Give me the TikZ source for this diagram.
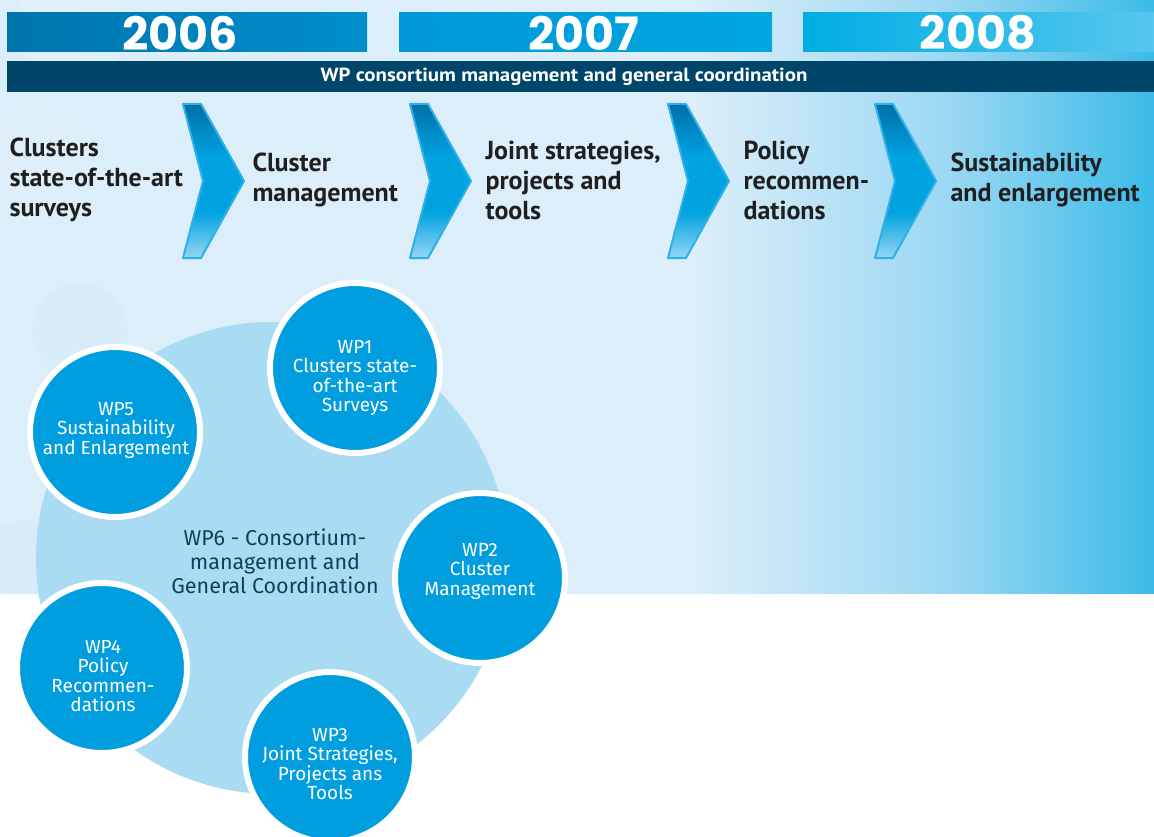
\documentclass[tikz,border=0pt]{standalone}
\usepackage{fontspec}
\setmainfont{PT Sans}
\newfontfamily\yearfont{Poppins}
\newfontfamily\barfont{PT Sans}[FakeStretch=1.1]
\newfontfamily\wpfont{Fira Sans}

\definecolor{bgpale}{HTML}{DCEEF9}
\definecolor{bgmid}{HTML}{9CD8F3}
\definecolor{bgdeep}{HTML}{3ABBE7}
\definecolor{darkbar}{HTML}{00456A}
\definecolor{chevtop}{HTML}{006EA8}
\definecolor{chevmid}{HTML}{00A2E0}
\definecolor{chevbot}{HTML}{94D6F3}
\definecolor{chevedge}{HTML}{2EB0E8}
\definecolor{ballfill}{HTML}{009EDF}
\definecolor{hubfill}{HTML}{A9DCF3}
\definecolor{hubtext}{HTML}{123F5E}
\definecolor{textdark}{HTML}{1F1F1F}

\pgfdeclarehorizontalshading{bgfade}{100bp}{color(0bp)=(bgpale); color(25bp)=(bgpale);
  color(55bp)=(bgpale); color(66bp)=(bgmid); color(75bp)=(bgdeep); color(100bp)=(bgdeep)}
\pgfdeclareverticalshading{chevfade}{100bp}{color(0bp)=(chevbot); color(25bp)=(chevbot);
  color(40bp)=(chevmid); color(58bp)=(chevmid); color(75bp)=(chevtop); color(100bp)=(chevtop)}

\begin{document}
\begin{tikzpicture}[x=1pt,y=-1pt,
  yearbar/.style={inner sep=0pt,text=white,
    font=\yearfont\bfseries\fontsize{46}{46}\selectfont},
  chevron/.style={shading=chevfade,draw=chevedge,line width=2pt,line join=round},
  steptext/.style={anchor=west,align=left,text=textdark,
    font=\bfseries\fontsize{26}{30}\selectfont},
  wpball/.style={circle,fill=ballfill,draw=white,line width=6pt,
    minimum size=170pt,inner sep=0pt},
  wptext/.style={align=center,text=white,font=\wpfont\fontsize{19}{19.5}\selectfont}]
\useasboundingbox (0,0) rectangle (1154,837);
\fill[white] (0,0) rectangle (1154,837);
\shade[shading=bgfade] (0,0) rectangle (1154,593);

% faint bubbles behind
\fill[white,opacity=0.12] (70,25) circle (55pt);
\fill[white,opacity=0.1] (35,150) circle (45pt);
\fill[bgmid,opacity=0.07] (80,330) circle (48pt);
\fill[bgmid,opacity=0.07] (25,560) circle (40pt);

% years
\shade[left color={rgb,255:red,0;green,116;blue,172},right color={rgb,255:red,0;green,143;blue,203}]
  (7,13) rectangle (367,52);
\shade[left color={rgb,255:red,0;green,151;blue,216},right color={rgb,255:red,0;green,167;blue,224}]
  (399,13) rectangle (772,52);
\shade[left color={rgb,255:red,0;green,173;blue,227},right color={rgb,255:red,86;green,199;blue,238}]
  (803,13) rectangle (1154,52);
\node[yearbar] (t2006) at (180,33) {2006};
\node[yearbar] (t2007) at (584,33) {2007};
\node[yearbar] (t2008) at (978,33) {2008};

% coordination bar
\fill[darkbar] (7,61) rectangle (1154,92);
\node[text=white,font=\barfont\bfseries\fontsize{19}{19}\selectfont] (coord) at (564,76.5)
  {WP consortium management and general coordination};

% chevrons
\foreach \cx in {183,410,668,875}
  \shadedraw[chevron] (\cx,104) -- ++(18,0) -- ++(43,77) -- ++(-43,77) -- ++(-18,0)
    -- ++(20,-77) -- cycle;

\node[steptext] (s1) at (6,180) {Clusters\\state-of-the-art\\surveys};
\node[steptext] (s2) at (249,180) {Cluster\\management};
\node[steptext] (s3) at (482,180) {Joint strategies,\\projects and\\tools};
\node[steptext] (s4) at (740,180) {Policy\\recommen-\\dations};
\node[steptext] (s5) at (947,180) {Sustainability\\and enlargement};

% work packages
\node[circle,fill=hubfill,minimum size=472pt,inner sep=0pt] (hub) at (272,558) {};
\node[align=center,text=hubtext,font=\wpfont\fontsize{21.5}{24}\selectfont] (wp6) at (275,561)
  {WP6 - Consortium-\\management and\\General Coordination};

\node[wpball] (b1) at (355,368) {};
\node[wpball] (b2) at (480,578) {};
\node[wpball] (b3) at (330,757) {};
\node[wpball] (b4) at (102,668) {};
\node[wpball] (b5) at (115,432) {};

\node[wptext] (wp1) at (355,378) {WP1\\Clusters state-\\of-the-art\\Surveys};
\node[wptext] (wp2) at (480,571) {WP2\\Cluster\\Management};
\node[wptext] (wp3) at (330,764) {WP3\\Joint Strategies,\\Projects ans\\Tools};
\node[wptext] (wp4) at (103,676) {WP4\\Policy\\Recommen-\\dations};
\node[wptext] (wp5) at (116,430) {WP5\\Sustainability\\and Enlargement};
\end{tikzpicture}
\end{document}
